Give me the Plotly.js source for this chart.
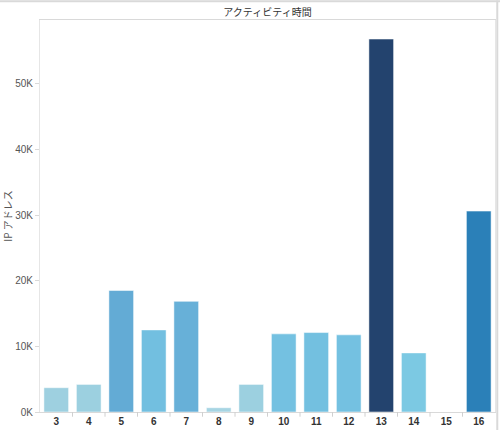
<!DOCTYPE html>
<html>
<head>
<meta charset="utf-8">
<script src="https://cdn.plot.ly/plotly-3.0.1.min.js"></script>
<style>
  html, body { margin: 0; padding: 0; background: #fff; }
  #chart { width: 500px; height: 430px; }
</style>
</head>
<body>
<div id="chart"></div>
<script>
// activity hour -> number of IP addresses
const hours = ['3', '4', '5', '6', '7', '8', '9', '10', '11', '12', '13', '14', '15', '16'];
const ipCounts = [3700, 4200, 18500, 12500, 16850, 650, 4200, 11900, 12100, 11750, 56800, 9000, 0, 30600];

const yTickVals = [0, 10000, 20000, 30000, 40000, 50000];
const yTickText = ['0K', '10K', '20K', '30K', '40K', '50K'];

const chartTitle = 'アクティビティ時間';
const yTitle = 'IP アドレス';

const font = '"Liberation Sans", Arial, "Noto Sans CJK JP", sans-serif';

// sequential blue scale, coloured by value like the original
const blues = [
  [0, '#a9d6e3'],
  [0.07, '#9dd0e0'],
  [0.16, '#7bc9e3'],
  [0.22, '#72bfe0'],
  [0.3, '#66afd8'],
  [0.33, '#62aad5'],
  [0.54, '#2b80b8'],
  [1, '#23436e']
];

const trace = {
  type: 'bar',
  x: hours,
  y: ipCounts,
  marker: {
    color: ipCounts,
    colorscale: blues,
    cmin: 0,
    cmax: 56800,
    line: { color: 'rgba(255,255,255,0.5)', width: 1 }
  },
  hoverinfo: 'x+y'
};

const layout = {
  width: 500,
  height: 430,
  margin: { l: 40, r: 5, t: 20, b: 18 },
  paper_bgcolor: '#fff',
  plot_bgcolor: '#fff',
  bargap: 0.24,
  showlegend: false,
  font: { family: font, color: '#555', size: 10 },
  title: {
    text: chartTitle,
    font: { family: '"Noto Sans CJK JP", sans-serif', size: 10, color: '#333' },
    x: 0.535, xanchor: 'center',
    y: 0.972, yanchor: 'middle'
  },
  xaxis: {
    type: 'category',
    range: [-0.5, 13.5],
    showgrid: false,
    zeroline: false,
    showline: true,
    linecolor: '#d9d9d9',
    linewidth: 1,
    mirror: true,
    ticks: '',
    tickfont: { family: font, size: 10, color: '#333', weight: 'bold' },
    fixedrange: true
  },
  yaxis: {
    range: [0, 59700],
    showgrid: false,
    zeroline: false,
    showline: true,
    linecolor: '#e6e6e6',
    linewidth: 1,
    mirror: true,
    ticks: 'outside',
    ticklen: 4,
    tickcolor: '#d9d9d9',
    tickvals: yTickVals,
    ticktext: yTickText,
    tickfont: { family: font, size: 10, color: '#555' },
    title: {
      text: yTitle,
      font: { family: '"Noto Sans CJK JP", sans-serif', size: 10, color: '#555' },
      standoff: 6
    },
    fixedrange: true
  },
  shapes: [
    // small separators between categories on the baseline
    ...hours.slice(1).map((h, i) => ({
      type: 'line', xref: 'x', yref: 'paper',
      x0: i + 0.5, x1: i + 0.5, y0: 0, y1: -0.012,
      line: { color: '#d0d0d0', width: 1 }
    })),
    // outer frame of the view
    { type: 'line', xref: 'paper', yref: 'paper', x0: -0.1, x1: 1.02, y0: 1.048, y1: 1.048,
      line: { color: '#d9d9d9', width: 2 } },
    { type: 'line', xref: 'paper', yref: 'paper', x0: 1.005, x1: 1.005, y0: -0.05, y1: 1.05,
      line: { color: '#d9d9d9', width: 2 } }
  ]
};

Plotly.newPlot('chart', [trace], layout, { displayModeBar: false, staticPlot: true });
</script>
</body>
</html>
